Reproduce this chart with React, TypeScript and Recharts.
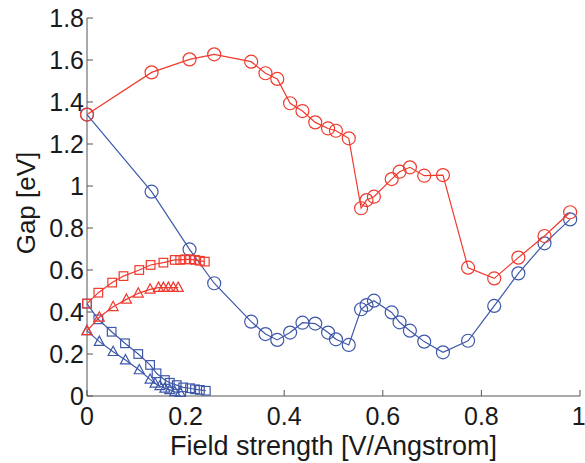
import { ScatterChart, Scatter, XAxis, YAxis } from "recharts";

// field strength (V/Angstrom) and gap (eV)
const circleX = [0, 0.131, 0.208, 0.258, 0.333, 0.362, 0.386, 0.412, 0.437, 0.463, 0.489, 0.505, 0.531, 0.556, 0.567, 0.582, 0.618, 0.634, 0.655, 0.684, 0.722, 0.773, 0.826, 0.875, 0.928, 0.98];
const redCircleY = [1.34, 1.541, 1.603, 1.627, 1.592, 1.537, 1.51, 1.394, 1.357, 1.303, 1.274, 1.263, 1.227, 0.894, 0.933, 0.949, 1.033, 1.068, 1.089, 1.049, 1.052, 0.611, 0.56, 0.659, 0.762, 0.875];
const blueCircleY = [1.34, 0.973, 0.698, 0.537, 0.354, 0.295, 0.267, 0.302, 0.349, 0.345, 0.302, 0.27, 0.243, 0.413, 0.433, 0.454, 0.398, 0.351, 0.311, 0.259, 0.208, 0.263, 0.429, 0.584, 0.727, 0.841];

const redSquareX = [0, 0.023, 0.051, 0.074, 0.106, 0.129, 0.155, 0.178, 0.189, 0.199, 0.209, 0.219, 0.229, 0.239];
const redSquareY = [0.44, 0.492, 0.54, 0.571, 0.6, 0.624, 0.635, 0.648, 0.648, 0.651, 0.651, 0.648, 0.644, 0.64];
const blueSquareX = [0, 0.023, 0.05, 0.077, 0.104, 0.128, 0.141, 0.158, 0.168, 0.182, 0.195, 0.209, 0.219, 0.229, 0.241];
const blueSquareY = [0.44, 0.365, 0.306, 0.251, 0.2, 0.148, 0.108, 0.076, 0.063, 0.052, 0.041, 0.037, 0.032, 0.029, 0.025];

const redTriX = [0, 0.025, 0.053, 0.08, 0.104, 0.128, 0.145, 0.155, 0.165, 0.175, 0.185];
const redTriY = [0.31, 0.375, 0.425, 0.46, 0.489, 0.508, 0.516, 0.516, 0.516, 0.516, 0.516];
const blueTriX = [0, 0.025, 0.053, 0.078, 0.106, 0.128, 0.138, 0.148, 0.158, 0.168, 0.178, 0.189];
const blueTriY = [0.31, 0.259, 0.211, 0.171, 0.124, 0.079, 0.06, 0.048, 0.037, 0.029, 0.02, 0.016];

const xTicks = [0, 0.2, 0.4, 0.6, 0.8, 1];
const yTicks = [0, 0.2, 0.4, 0.6, 0.8, 1, 1.2, 1.4, 1.6, 1.8];

const RED = "#ef3a2e";
const BLUE = "#3e58a9";
const AXIS = "#555";
const FONT = "'Liberation Sans', Arial, sans-serif";

const zip = (xs: number[], ys: number[]) => xs.map((x, i) => ({ x, y: ys[i] }));

const circle = (color: string) => (p: any) => (
  <circle cx={p.cx} cy={p.cy} r={6.5} fill="none" stroke={color} strokeWidth={1.2} />
);
const square = (color: string) => (p: any) => (
  <rect x={p.cx - 4.3} y={p.cy - 4.3} width={8.6} height={8.6} fill="none" stroke={color} strokeWidth={1.2} />
);
const triangle = (color: string) => (p: any) => (
  <polygon
    points={`${p.cx},${p.cy - 5.5} ${p.cx - 5},${p.cy + 3.8} ${p.cx + 5},${p.cy + 3.8}`}
    fill="none"
    stroke={color}
    strokeWidth={1.2}
  />
);

const series = [
  { key: "bt", data: zip(blueTriX, blueTriY), color: BLUE, shape: triangle },
  { key: "bs", data: zip(blueSquareX, blueSquareY), color: BLUE, shape: square },
  { key: "bc", data: zip(circleX, blueCircleY), color: BLUE, shape: circle },
  { key: "rt", data: zip(redTriX, redTriY), color: RED, shape: triangle },
  { key: "rs", data: zip(redSquareX, redSquareY), color: RED, shape: square },
  { key: "rc", data: zip(circleX, redCircleY), color: RED, shape: circle },
];

const tickStyle = { fill: "#1a1a1a", fontSize: 25, fontFamily: FONT };

export default function App() {
  return (
    <div style={{ position: "absolute", left: 0, top: 0, background: "#fff" }}>
      <ScatterChart width={585} height={463} margin={{ top: 18, right: 5, bottom: 0, left: 0 }}>
        <XAxis
          type="number"
          dataKey="x"
          domain={[0, 1]}
          ticks={xTicks}
          tickSize={-6}
          tickMargin={17}
          height={67}
          stroke={AXIS}
          tick={tickStyle}
          label={{
            content: (props: any) => {
              const vb = props.viewBox;
              return (
                <text x={vb.x + vb.width / 2} y={455} textAnchor="middle" fontSize={27} fontFamily={FONT} fill="#1a1a1a">
                  Field strength [V/Angstrom]
                </text>
              );
            },
          }}
        />
        <XAxis xAxisId="top" orientation="top" type="number" domain={[0, 1]} ticks={xTicks} tickSize={-6} height={0} tick={false} stroke={AXIS} />
        <YAxis
          type="number"
          dataKey="y"
          domain={[0, 1.8]}
          ticks={yTicks}
          tickSize={-6}
          tickMargin={9}
          width={87}
          stroke={AXIS}
          tick={tickStyle}
          label={{
            content: (props: any) => {
              const vb = props.viewBox;
              const cy = vb.y + vb.height / 2 - 4;
              return (
                <text x={26} y={cy} transform={`rotate(-90 26 ${cy})`} textAnchor="middle" dominantBaseline="central" fontSize={26} fontFamily={FONT} fill="#1a1a1a">
                  Gap [eV]
                </text>
              );
            },
          }}
        />
        <YAxis yAxisId="right" orientation="right" type="number" domain={[0, 1.8]} ticks={yTicks} tickSize={-6} width={0} tick={false} stroke={AXIS} />
        {series.map((s) => (
          <Scatter
            key={s.key}
            data={s.data}
            line={{ stroke: s.color, strokeWidth: 1.2 }}
            lineType="joint"
            shape={s.shape(s.color)}
            isAnimationActive={false}
          />
        ))}
      </ScatterChart>
    </div>
  );
}
